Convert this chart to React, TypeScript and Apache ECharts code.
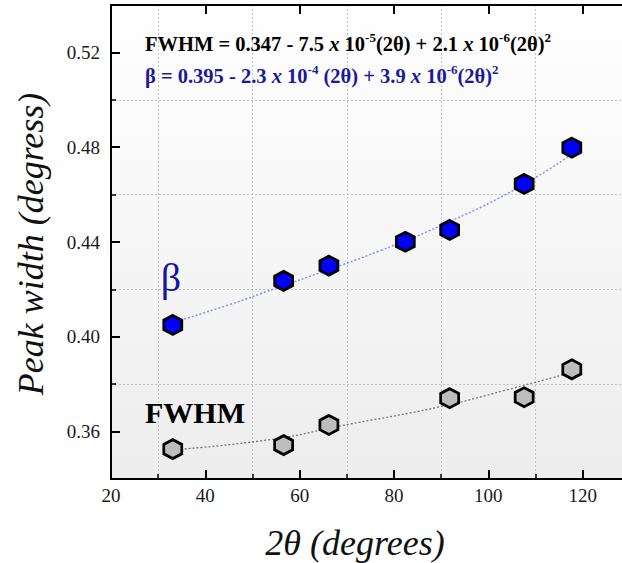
import React, { useEffect, useRef } from 'react';
import * as echarts from 'echarts';

// ---- data ----
const twoThetaBeta = [33.1, 56.6, 66.2, 82.4, 91.8, 107.6, 117.7];
const betaValues = [0.405, 0.4236, 0.43, 0.4401, 0.4451, 0.4645, 0.4798];
const twoThetaFwhm = [33.1, 56.6, 66.2, 91.8, 107.6, 117.7];
const fwhmValues = [0.3526, 0.3543, 0.3628, 0.3741, 0.3745, 0.3863];

const betaFitX = [33.1, 45, 55, 65, 77, 90, 105.4, 117.7];
const betaFitY = [0.406, 0.4135, 0.4205, 0.4275, 0.4363, 0.447, 0.4619, 0.477];
const fwhmFitX = [33.1, 54.4, 68.6, 89.8, 103.9, 117.7];
const fwhmFitY = [0.3523, 0.3568, 0.3624, 0.3705, 0.3776, 0.385];

const xTickLabels = ['20', '40', '60', '80', '100', '120'];
const yTickLabels = ['0.36', '0.40', '0.44', '0.48', '0.52'];

const SERIF = "'Liberation Serif', 'Times New Roman', serif";
const HEX = 'path://M0,-10L8.66,-5L8.66,5L0,10L-8.66,5L-8.66,-5Z';

const zip = (xs: number[], ys: number[]) => xs.map((x, i) => [x, ys[i]]);

export default function App() {
  const ref = useRef<HTMLDivElement>(null);
  useEffect(() => {
    if (!ref.current) return;
    const chart = echarts.init(ref.current, undefined, { renderer: 'svg' });
    const grid0 = { left: 111, top: 5, width: 566, bottom: 84, containLabel: false, outerBoundsMode: 'none' };
    const b = { fontFamily: SERIF, fontWeight: 'bold', fontSize: 20.5, lineHeight: 26 } as any;
    const it = { ...b, fontStyle: 'italic' };
    const sp = { fontFamily: SERIF, fontWeight: 'bold', fontSize: 13, lineHeight: 12, verticalAlign: 'top' } as any;
    const blue = '#1a1a99';
    const option: any = {
      animation: false,
      backgroundColor: '#ffffff',
      grid: [
        {
          ...grid0,
          show: true,
          borderWidth: 0,
          backgroundColor: new echarts.graphic.LinearGradient(0, 0, 0, 1, [
            { offset: 0, color: '#ffffff' },
            { offset: 1, color: '#ededed' },
          ]),
        },
        { left: 111, top: 5, width: 9, bottom: 84, show: false, containLabel: false, outerBoundsMode: 'none' },
      ],
      xAxis: [
        {
          type: 'value', gridIndex: 0, position: 'bottom', min: 20, max: 140, interval: 20,
          axisLine: { show: true, onZero: false, lineStyle: { color: '#000', width: 2 } },
          axisTick: { show: true, inside: true, length: 9, lineStyle: { color: '#000', width: 2 } },
          minorTick: { show: true, splitNumber: 2, length: 5, lineStyle: { color: '#000', width: 1.5 } },
          minorSplitLine: { show: true, lineStyle: { color: '#c4c4c4', width: 1, type: [2, 2] } },
          splitLine: { show: false },
          axisLabel: {
            show: true, margin: 7, color: '#1a1a1a', fontFamily: SERIF, fontSize: 19,
            formatter: (v: number) => (xTickLabels.includes(String(v)) ? String(v) : ''),
          },
        },
        {
          type: 'value', gridIndex: 0, position: 'top', min: 20, max: 140, interval: 20,
          axisLine: { show: true, onZero: false, lineStyle: { color: '#000', width: 2 } },
          axisTick: { show: true, inside: true, length: 9, lineStyle: { color: '#000', width: 2 } },
          axisLabel: { show: false },
          splitLine: { show: false },
        },
        {
          type: 'value', gridIndex: 1, min: 0, max: 1, show: false,
        },
      ],
      yAxis: [
        {
          type: 'value', gridIndex: 0, min: 0.34, max: 0.54, interval: 0.02,
          axisLine: { show: true, onZero: false, lineStyle: { color: '#000', width: 2 } },
          axisTick: { show: true, inside: true, length: 5, lineStyle: { color: '#000', width: 1.5 } },
          splitLine: { show: true, lineStyle: { color: ['#c4c4c4', 'transparent'], width: 1, type: [2, 2] } },
          axisLabel: {
            show: true, margin: 11, color: '#1a1a1a', fontFamily: SERIF, fontSize: 19,
            formatter: (v: number) => {
              const s = v.toFixed(2);
              return yTickLabels.includes(s) ? s : '';
            },
          },
        },
        {
          type: 'value', gridIndex: 1, min: 0.34, max: 0.54, interval: 0.02,
          axisLine: { show: false }, axisTick: { show: false }, axisLabel: { show: false },
          splitLine: { show: true, lineStyle: { color: ['transparent', '#000'], width: 2 } },
        },
      ],
      series: [
        {
          type: 'line', xAxisIndex: 0, yAxisIndex: 0, data: zip(betaFitX, betaFitY), smooth: true,
          showSymbol: false, silent: true, z: 2,
          lineStyle: { color: '#8c8cff', width: 1.5, type: [2, 2] },
        },
        {
          type: 'line', xAxisIndex: 0, yAxisIndex: 0, data: zip(fwhmFitX, fwhmFitY), smooth: true,
          showSymbol: false, silent: true, z: 2,
          lineStyle: { color: '#7a7a7a', width: 1.3, type: [2, 2] },
        },
        {
          type: 'scatter', xAxisIndex: 0, yAxisIndex: 0, data: zip(twoThetaBeta, betaValues),
          symbol: HEX, symbolSize: [18, 19], z: 5,
          itemStyle: { color: '#0000ff', borderColor: '#000', borderWidth: 2.8, opacity: 1 },
        },
        {
          type: 'scatter', xAxisIndex: 0, yAxisIndex: 0, data: zip(twoThetaFwhm, fwhmValues),
          symbol: HEX, symbolSize: [18, 19], z: 5,
          itemStyle: { color: '#bdbdbd', borderColor: '#000', borderWidth: 2.8, opacity: 1 },
        },
      ],
      graphic: [
        {
          type: 'text', left: 145, top: 31, z: 10,
          style: {
            text: '{b|FWHM = 0.347 - 7.5 }{i|x}{b| 10}{s|-5}{b|(2θ) + 2.1 }{i|x}{b| 10}{s|-6}{b|(2θ)}{s|2}',
            rich: { b: { ...b, fill: '#000' }, i: { ...it, fill: '#000' }, s: { ...sp, fill: '#000' } },
          },
        },
        {
          type: 'text', left: 145, top: 63, z: 10,
          style: {
            text: '{b|β = 0.395 - 2.3 }{i|x}{b| 10}{s|-4}{b| (2θ) + 3.9 }{i|x}{b| 10}{s|-6}{b|(2θ)}{s|2}',
            rich: { b: { ...b, fill: blue }, i: { ...it, fill: blue }, s: { ...sp, fill: blue } },
          },
        },
        {
          type: 'text', x: 171, y: 277, z: 10,
          style: { text: 'β', fontFamily: SERIF, fontSize: 40, fill: '#1515a0', align: 'center', verticalAlign: 'middle' },
        },
        {
          type: 'text', x: 145, y: 412, z: 10,
          style: { text: 'FWHM', fontFamily: SERIF, fontSize: 30, fontWeight: 'bold', fill: '#000', align: 'left', verticalAlign: 'middle' },
        },
        {
          type: 'text', x: 355, y: 543, z: 10,
          style: { text: '2θ (degrees)', fontFamily: SERIF, fontSize: 36, fontStyle: 'italic', fill: '#111', align: 'center', verticalAlign: 'middle' },
        },
        {
          type: 'text', x: 31, y: 244, rotation: Math.PI / 2, z: 10,
          style: { text: 'Peak width (degress)', fontFamily: SERIF, fontSize: 36, fontStyle: 'italic', fill: '#111', align: 'center', verticalAlign: 'middle' },
        },
      ],
    };
    chart.setOption(option);
    return () => chart.dispose();
  }, []);
  return (
    <div
      ref={ref}
      style={{ position: 'fixed', left: 0, top: 0, width: 622, height: 563, overflow: 'hidden', background: '#fff' }}
    />
  );
}
